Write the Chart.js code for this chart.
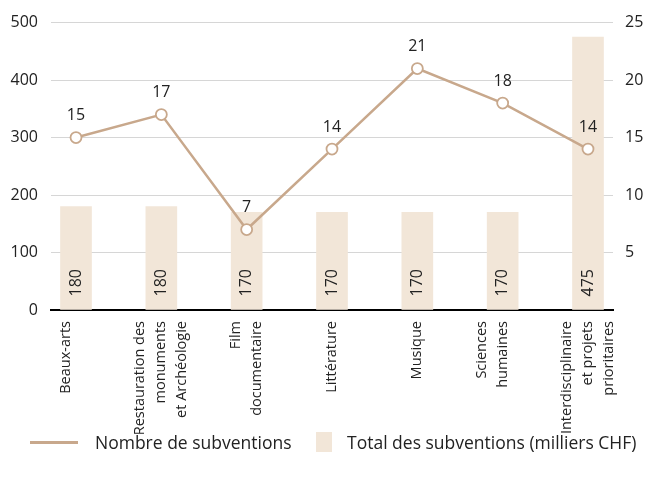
<!DOCTYPE html>
<html>
<head>
<meta charset="utf-8">
<script src="https://cdn.jsdelivr.net/npm/chart.js@4/dist/chart.umd.min.js"></script>
<style>
  body { margin: 0; background: #fff; font-family: "Open Sans", sans-serif; }
  #wrap { position: relative; width: 648px; height: 483px; }
  #chart { position: absolute; left: 0; top: 0; }
  #legend { position: absolute; left: 0; top: 430px; width: 648px; height: 24px; font-size: 17.5px; color: #222; }
  .swLine { position: absolute; left: 30px; top: 11px; width: 48px; height: 3px; background: #c8a88c; }
  .swBox { position: absolute; left: 316px; top: 2px; width: 16px; height: 20px; background: #f2e6d8; }
  .txt { position: absolute; top: 0; line-height: 24px; white-space: nowrap; }
</style>
</head>
<body>
<div id="wrap">
  <canvas id="chart" width="648" height="483"></canvas>
  <div id="legend">
    <div class="swLine"></div><div class="txt" style="left:95px">Nombre de subventions</div>
    <div class="swBox"></div><div class="txt" style="left:347px">Total des subventions (milliers CHF)</div>
  </div>
</div>
<script>
const categories = [
    ["Beaux-arts", ""],
    ["Restauration des", "monuments", "et Archéologie"],
    ["Film", "documentaire"],
    ["Littérature"],
    ["Musique"],
    ["Sciences", "humaines", ""],
    ["Interdisciplinaire", "et projets", "prioritaires"]
];
const grantCounts = [15, 17, 7, 14, 21, 18, 14];
const grantTotals = [180, 180, 170, 170, 170, 170, 475];

const lineColor = '#c8a88c';
const barColor = '#f2e6d8';
const textColor = '#222';
const fontFamily = '"Open Sans", sans-serif';

// numbers above points and inside bars, plus the rotated category names
const valueLabels = {
    id: 'valueLabels',
    afterDatasetsDraw(chart) {
        const ctx = chart.ctx;
        ctx.save();
        ctx.fillStyle = textColor;
        ctx.font = '16px ' + fontFamily;

        const barMeta = chart.getDatasetMeta(1);
        barMeta.data.forEach((bar, i) => {
            ctx.save();
            ctx.translate(bar.x, bar.base - 13);
            ctx.rotate(-Math.PI / 2);
            ctx.textAlign = 'left';
            ctx.textBaseline = 'middle';
            ctx.fillText(String(grantTotals[i]), 0, 0);
            ctx.restore();
        });

        const lineMeta = chart.getDatasetMeta(0);
        ctx.textAlign = 'center';
        ctx.textBaseline = 'middle';
        lineMeta.data.forEach((pt, i) => {
            ctx.fillText(String(grantCounts[i]), pt.x, pt.y - 22);
        });

        // category labels, lines centred on the tick
        const xs = chart.scales.x;
        const lh = 21;
        ctx.font = '14.5px ' + fontFamily;
        categories.forEach((lines, i) => {
            const px = xs.getPixelForValue(i);
            lines.forEach((txt, j) => {
                if (!txt) return;
                ctx.save();
                ctx.translate(px + (j - (lines.length - 1) / 2) * lh, xs.top + 11);
                ctx.rotate(-Math.PI / 2);
                ctx.textAlign = 'right';
                ctx.textBaseline = 'middle';
                ctx.fillText(txt, 0, 0);
                ctx.restore();
            });
        });
        ctx.restore();
    }
};

new Chart(document.getElementById('chart'), {
    type: 'bar',
    data: {
        datasets: [
            {
                type: 'line',
                label: 'Nombre de subventions',
                data: grantCounts.map((v, i) => ({ x: i, y: v })),
                yAxisID: 'y1',
                borderColor: lineColor,
                borderWidth: 2.5,
                pointRadius: 5.5,
                pointBorderWidth: 1.8,
                pointBackgroundColor: '#fff',
                pointBorderColor: lineColor,
                tension: 0,
                order: 0
            },
            {
                type: 'bar',
                label: 'Total des subventions (milliers CHF)',
                data: grantTotals.map((v, i) => ({ x: i, y: v })),
                yAxisID: 'y',
                backgroundColor: barColor,
                barThickness: 31,
                order: 1
            }
        ]
    },
    options: {
        responsive: false,
        animation: false,
        layout: { padding: { top: 22, left: 0, right: 0, bottom: 0 } },
        plugins: { legend: { display: false }, tooltip: { enabled: false } },
        scales: {
            x: {
                type: 'linear',
                offset: false,
                min: -0.293,
                max: 6.293,
                grid: { display: false },
                border: { display: true, color: '#000', width: 2 },
                afterBuildTicks: s => { s.ticks = categories.map((_, i) => ({ value: i })); },
                afterFit: s => { s.height = 173; },
                ticks: { display: false }
            },
            y: {
                position: 'left',
                min: 0,
                max: 500,
                grid: { color: '#d6d6d6', lineWidth: 1, drawTicks: false },
                border: { display: false },
                afterFit: s => { s.width = 51; },
                ticks: {
                    stepSize: 100,
                    padding: 13,
                    color: textColor,
                    font: { family: fontFamily, size: 16 }
                }
            },
            y1: {
                position: 'right',
                min: 0,
                max: 25,
                grid: { display: false, drawTicks: false },
                border: { display: false },
                afterFit: s => { s.width = 35; },
                ticks: {
                    stepSize: 5,
                    padding: 12,
                    color: textColor,
                    font: { family: fontFamily, size: 16 },
                    callback: v => v === 0 ? '' : v
                }
            }
        }
    },
    plugins: [valueLabels]
});
</script>
</body>
</html>
